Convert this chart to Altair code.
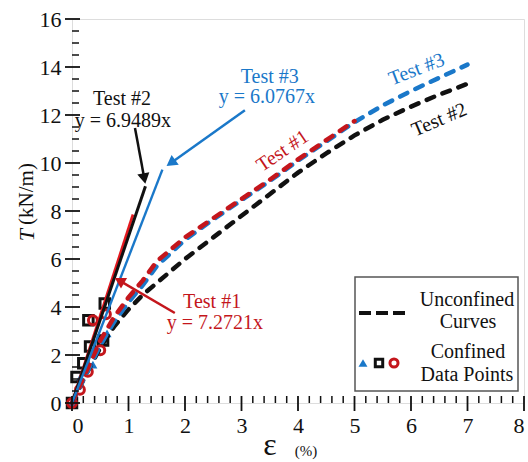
import altair as alt
import pandas as pd

# ---- unconfined load–strain curves (dashed) ----
strain = [0, 0.25, 0.5, 0.75, 1.0, 1.25, 1.5, 2.0, 2.5, 3.0, 3.5, 4.0, 4.5, 5.0, 5.5, 6.0, 6.5, 7.0]
t2_curve = [0, 1.2, 2.3, 3.2, 3.9, 4.5, 5.0, 6.0, 6.9, 7.8, 8.7, 9.6, 10.4, 11.15, 11.8, 12.35, 12.85, 13.3]
t3_curve = [0, 1.2, 2.4, 3.4, 4.2, 4.9, 5.7, 6.8, 7.65, 8.45, 9.25, 10.1, 10.9, 11.7, 12.4, 13.0, 13.55, 14.1]
t1_strain = [0, 0.25, 0.5, 0.75, 1.0, 1.25, 1.5, 2.0, 2.5, 3.0, 3.5, 4.0, 4.5, 5.0]
t1_curve = [0, 1.3, 2.6, 3.6, 4.4, 5.1, 5.9, 6.9, 7.7, 8.5, 9.3, 10.15, 10.95, 11.75]

# ---- confined data points ----
t2_pts_x = [0, 0.08, 0.2, 0.32, 0.55, 0.29, 0.58]
t2_pts_y = [0, 1.08, 1.66, 2.35, 2.6, 3.45, 4.15]
t1_pts_x = [0, 0.14, 0.28, 0.5, 0.37, 0.6]
t1_pts_y = [0, 0.55, 1.3, 2.2, 3.45, 3.7]
t3_pts_x = [0, 0.14, 0.37, 0.62]
t3_pts_y = [0, 1.04, 1.6, 2.9]

# ---- linear fits: slope and strain range ----
fit_slopes = {"Test #1": 7.2721, "Test #2": 6.9489, "Test #3": 6.0767}
fit_xmax = {"Test #1": 1.08, "Test #2": 1.3, "Test #3": 1.6}

# ---- axis ticks ----
x_major = [0, 1, 2, 3, 4, 5, 6, 7, 8]
x_minor = [round(i * 0.2, 1) for i in range(41) if i % 5 != 0]
y_major = [0, 2, 4, 6, 8, 10, 12, 14, 16]
y_minor = [i * 0.5 for i in range(33) if i % 4 != 0]

BLACK = "#111111"
RED = "#c4161c"
RED_LINE = "#e3191f"
BLUE = "#1a78c9"
FONT = "Liberation Serif"
W, H = 452, 384

xs = alt.Scale(domain=[0, 8], nice=False)
ys = alt.Scale(domain=[0, 16], nice=False)
X_AXIS = alt.Axis(values=x_major, ticks=False, domain=False, grid=False,
                  labelFont=FONT, labelFontSize=22, labelColor=BLACK,
                  labelPadding=12, title=None, format="d")
Y_AXIS = alt.Axis(values=y_major, ticks=False, domain=False, grid=False,
                  labelFont=FONT, labelFontSize=22, labelColor=BLACK,
                  labelPadding=11, title=None, format="d")


def xq(f="x"):
    return alt.X(f"{f}:Q", scale=xs, axis=X_AXIS)


def yq(f="y"):
    return alt.Y(f"{f}:Q", scale=ys, axis=Y_AXIS)


one = pd.DataFrame({"a": [0]})

xmaj = alt.Chart(pd.DataFrame({"x": x_major})).mark_rule(color=BLACK, strokeWidth=1.8).encode(
    x=xq(), y=alt.value(H - 7), y2=alt.value(H + 8))
xmin = alt.Chart(pd.DataFrame({"x": x_minor})).mark_rule(color=BLACK, strokeWidth=1.5).encode(
    x=xq(), y=alt.value(H - 7), y2=alt.value(H))
ymaj = alt.Chart(pd.DataFrame({"y": y_major})).mark_rule(color=BLACK, strokeWidth=1.8).encode(
    y=yq(), x=alt.value(-7), x2=alt.value(8))
ymin = alt.Chart(pd.DataFrame({"y": y_minor})).mark_rule(color=BLACK, strokeWidth=1.5).encode(
    y=yq(), x=alt.value(0), x2=alt.value(7))


def pts(xv, yv, shape, color, filled, size):
    df = pd.DataFrame({"x": xv, "y": yv})
    return alt.Chart(df).mark_point(shape=shape, filled=filled, size=size, color=color,
                                    strokeWidth=3, opacity=1).encode(x=xq(), y=yq())


p3 = pts(t3_pts_x, t3_pts_y, "triangle-up", BLUE, True, 80)
p2 = pts(t2_pts_x, t2_pts_y, "square", BLACK, False, 90)
p1 = pts(t1_pts_x, t1_pts_y, "circle", RED, False, 80)


def dashed(xv, yv, color):
    df = pd.DataFrame({"x": xv, "y": yv})
    return alt.Chart(df).mark_line(color=color, strokeWidth=4.5, strokeDash=[8, 9],
                                   strokeCap="round").encode(x=xq(), y=yq())


c2 = dashed(strain, t2_curve, BLACK)
c3 = dashed(strain, t3_curve, BLUE)
c1 = dashed(t1_strain, t1_curve, RED)


def fit(name, color, width):
    k = fit_slopes[name]
    x1 = fit_xmax[name]
    df = pd.DataFrame({"x": [0, x1], "y": [0, k * x1]})
    return alt.Chart(df).mark_line(color=color, strokeWidth=width).encode(x=xq(), y=yq())


f1 = fit("Test #1", RED_LINE, 2.8)
f2 = fit("Test #2", BLACK, 3)
f3 = fit("Test #3", BLUE, 2.4)

# ---- annotations ----
labels = pd.DataFrame({
    "x": [0.885, 0.9, 3.5, 3.45, 2.48, 2.53, 3.73, 6.1, 6.5],
    "y": [12.67, 11.75, 13.58, 12.75, 4.2, 3.33, 10.5, 13.9, 11.8],
    "text": ["Test #2", "y = 6.9489x", "Test #3", "y = 6.0767x", "Test #1", "y = 7.2721x",
             "Test #1", "Test #3", "Test #2"],
    "color": [BLACK, BLACK, BLUE, BLUE, RED, RED, RED, BLUE, BLACK],
    "angle": [0, 0, 0, 0, 0, 0, 326, 339, 337],
})
ann = alt.Chart(labels).mark_text(font=FONT, fontSize=20, align="center", baseline="middle").encode(
    x=xq(), y=yq(), text="text:N", color=alt.Color("color:N", scale=None),
    angle=alt.Angle("angle:Q", scale=None))

arrows = pd.DataFrame({
    "id": ["b", "b", "u", "u", "r", "r"],
    "x": [1.115, 1.28, 3.06, 1.75, 1.82, 0.84],
    "y": [11.46, 9.35, 12.2, 10.0, 3.75, 5.1],
    "color": [BLACK, BLACK, BLUE, BLUE, RED, RED],
})
arrow_lines = alt.Chart(arrows).mark_line(strokeWidth=2.5).encode(
    x=xq(), y=yq(), detail="id:N", color=alt.Color("color:N", scale=None))

heads = pd.DataFrame({
    "x": [1.28, 1.75, 0.84],
    "y": [9.35, 10.0, 5.1],
    "color": [BLACK, BLUE, RED],
    "angle": [169, 234, 300],
})
arrow_heads = alt.Chart(heads).mark_point(shape="triangle-up", filled=True, size=150, opacity=1).encode(
    x=xq(), y=yq(), color=alt.Color("color:N", scale=None), angle=alt.Angle("angle:Q", scale=None))

# ---- legend box ----
leg_box = alt.Chart(one).mark_rect(fill="white", stroke="#555555", strokeWidth=1.5).encode(
    x=alt.value(283), x2=alt.value(446), y=alt.value(258), y2=alt.value(372))
leg_dash = alt.Chart(one).mark_rule(color=BLACK, strokeWidth=4, strokeDash=[12, 5]).encode(
    x=alt.value(287), x2=alt.value(337), y=alt.value(294))
leg_text = alt.Chart(pd.DataFrame({
    "text": ["Unconfined", "Curves", "Confined", "Data Points"],
    "px": [395, 396, 396, 395],
    "py": [281, 303, 333, 356],
})).mark_text(font=FONT, fontSize=20, color=BLACK, align="center", baseline="middle").encode(
    x=alt.X("px:Q", scale=None), y=alt.Y("py:Q", scale=None), text="text:N")
leg_tri = alt.Chart(one).mark_point(shape="triangle-up", filled=True, size=80, color=BLUE, opacity=1).encode(
    x=alt.value(291), y=alt.value(344))
leg_sq = alt.Chart(one).mark_point(shape="square", filled=False, size=55, strokeWidth=3, color=BLACK, opacity=1).encode(
    x=alt.value(307), y=alt.value(344))
leg_ci = alt.Chart(one).mark_point(shape="circle", filled=False, size=65, strokeWidth=3, color=RED, opacity=1).encode(
    x=alt.value(322), y=alt.value(344))

# ---- axis titles ----
ytitle_t = alt.Chart(one).mark_text(font=FONT, fontSize=22, fontStyle="italic", angle=270,
                                    color=BLACK, align="center", baseline="middle").encode(
    x=alt.value(-45), y=alt.value(216), text=alt.value("T"))
ytitle_u = alt.Chart(one).mark_text(font=FONT, fontSize=21, angle=270, color=BLACK,
                                    align="center", baseline="middle").encode(
    x=alt.value(-45), y=alt.value(175), text=alt.value("(kN/m)"))
xtitle_e = alt.Chart(one).mark_text(font=FONT, fontSize=32, color=BLACK, align="center",
                                    baseline="middle").encode(
    x=alt.value(198), y=alt.value(426), text=alt.value("ε"))
xtitle_u = alt.Chart(one).mark_text(font=FONT, fontSize=15, color=BLACK, align="center",
                                    baseline="middle").encode(
    x=alt.value(234), y=alt.value(432), text=alt.value("(%)"))

chart = alt.layer(
    p3, p2, p1, c2, c3, c1, f1, f2, f3,
    arrow_lines, arrow_heads, ann,
    leg_box, leg_dash, leg_text, leg_tri, leg_sq, leg_ci,
    xmaj, xmin, ymaj, ymin,
    ytitle_t, ytitle_u, xtitle_e, xtitle_u,
).properties(
    width=W, height=H,
    autosize=alt.AutoSizeParams(type="none"),
    padding={"left": 72, "top": 19, "right": 4, "bottom": 59},
).configure_view(stroke=BLACK, strokeWidth=2.2).configure(background="white")

chart.save("out.html", embed_options={"renderer": "svg", "actions": False})
